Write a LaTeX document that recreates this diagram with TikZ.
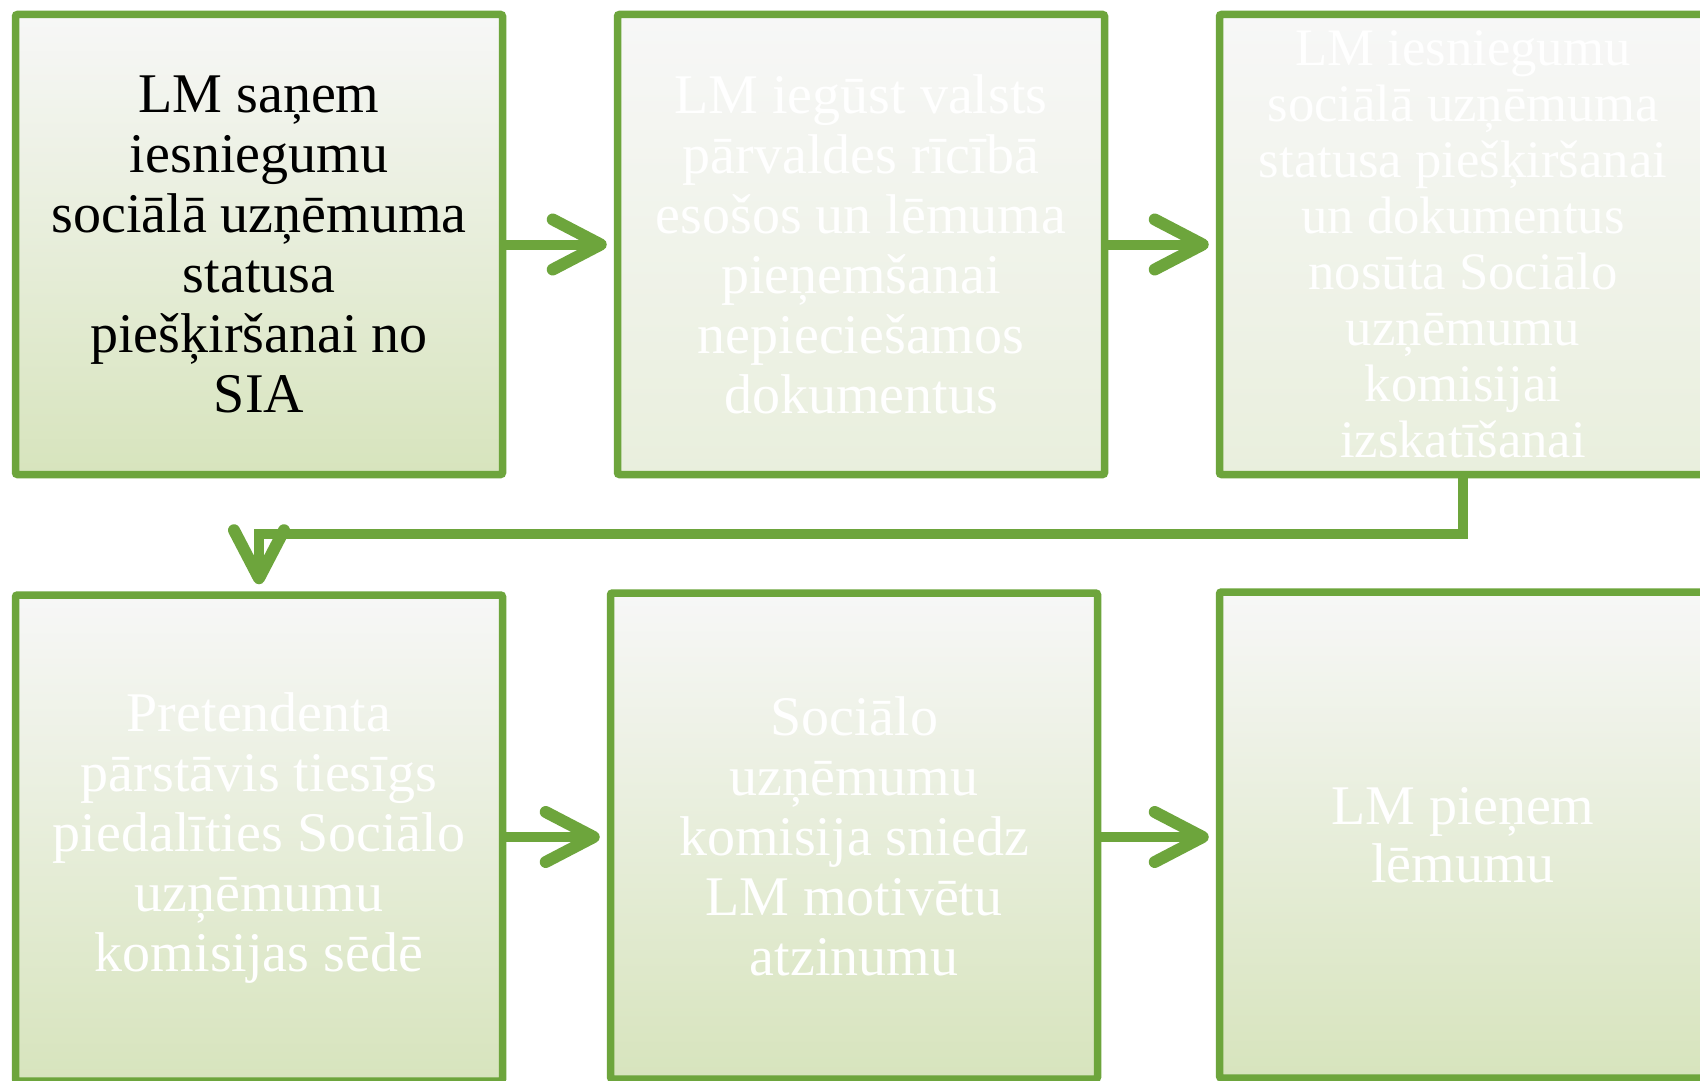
\documentclass[tikz,border=0pt]{standalone}
\usepackage{fontspec}
\setmainfont{Liberation Serif}
\usetikzlibrary{arrows.meta,shadows}
\definecolor{gr}{RGB}{109,165,60}
\definecolor{topc}{HTML}{F7F7F7}
\definecolor{botA}{HTML}{D7E4BD}
\definecolor{botB}{HTML}{E9EFDD}
\tikzset{
  box/.style={draw=gr, line width=7.5pt, rounded corners=2pt, top color=topc, bottom color=botA,
    minimum width=487pt, align=center, text=white, inner sep=0pt,
    drop shadow={opacity=0.22, shadow xshift=0pt, shadow yshift=-3pt},
    font=\fontsize{56}{60}\selectfont},
  rowA/.style={minimum height=460pt},
  rowB/.style={minimum height=486pt},
  conn/.style={draw=gr, line width=10pt,
    -{Straight Barb[round, length=48pt, width=50pt, line width=12pt]}, shorten >=7pt}
}
\begin{document}
\begin{tikzpicture}[x=1pt,y=-1pt]
\useasboundingbox (0,0) rectangle (1700,1081);
\clip (0,0) rectangle (1700,1081);
\fill[white] (0,0) rectangle (1700,1081);

\node[box, rowA, text=black] (b1) at (259,244.5)
  {LM saņem\\iesniegumu\\sociālā uzņēmuma\\statusa\\piešķiršanai no\\SIA};
\node[box, rowA, bottom color=botB] (b2) at (861,244.5)
  {LM iegūst valsts\\pārvaldes rīcībā\\esošos un lēmuma\\pieņemšanai\\nepieciešamos\\dokumentus};
\node[box, rowA, bottom color=botB, font=\fontsize{52.7}{56}\selectfont] (b3) at (1463,244.5)
  {LM iesniegumu\\sociālā uzņēmuma\\statusa piešķiršanai\\un dokumentus\\nosūta Sociālo\\uzņēmumu\\komisijai\\izskatīšanai};

\node[box, rowB] (b4) at (259,838)
  {Pretendenta\\pārstāvis tiesīgs\\piedalīties Sociālo\\uzņēmumu\\komisijas sēdē};
\node[box, rowB] (b5) at (854,836)
  {Sociālo\\uzņēmumu\\komisija sniedz\\LM motivētu\\atzinumu};
\node[box, rowB, font=\fontsize{56}{58}\selectfont] (b6) at (1463,835)
  {LM pieņem\\lēmumu};

\coordinate (elbow) at (0,534);
\coordinate (rowy) at (0,837);

\draw[conn] (b1.east) -- (b2.west);
\draw[conn] (b2.east) -- (b3.west);
\draw[conn] (b3.south) |- (b4.north |- elbow) -- (b4.north);
\draw[conn] (b4.east |- rowy) -- (b5.west |- rowy);
\draw[conn] (b5.east |- rowy) -- (b6.west |- rowy);
\end{tikzpicture}
\end{document}
